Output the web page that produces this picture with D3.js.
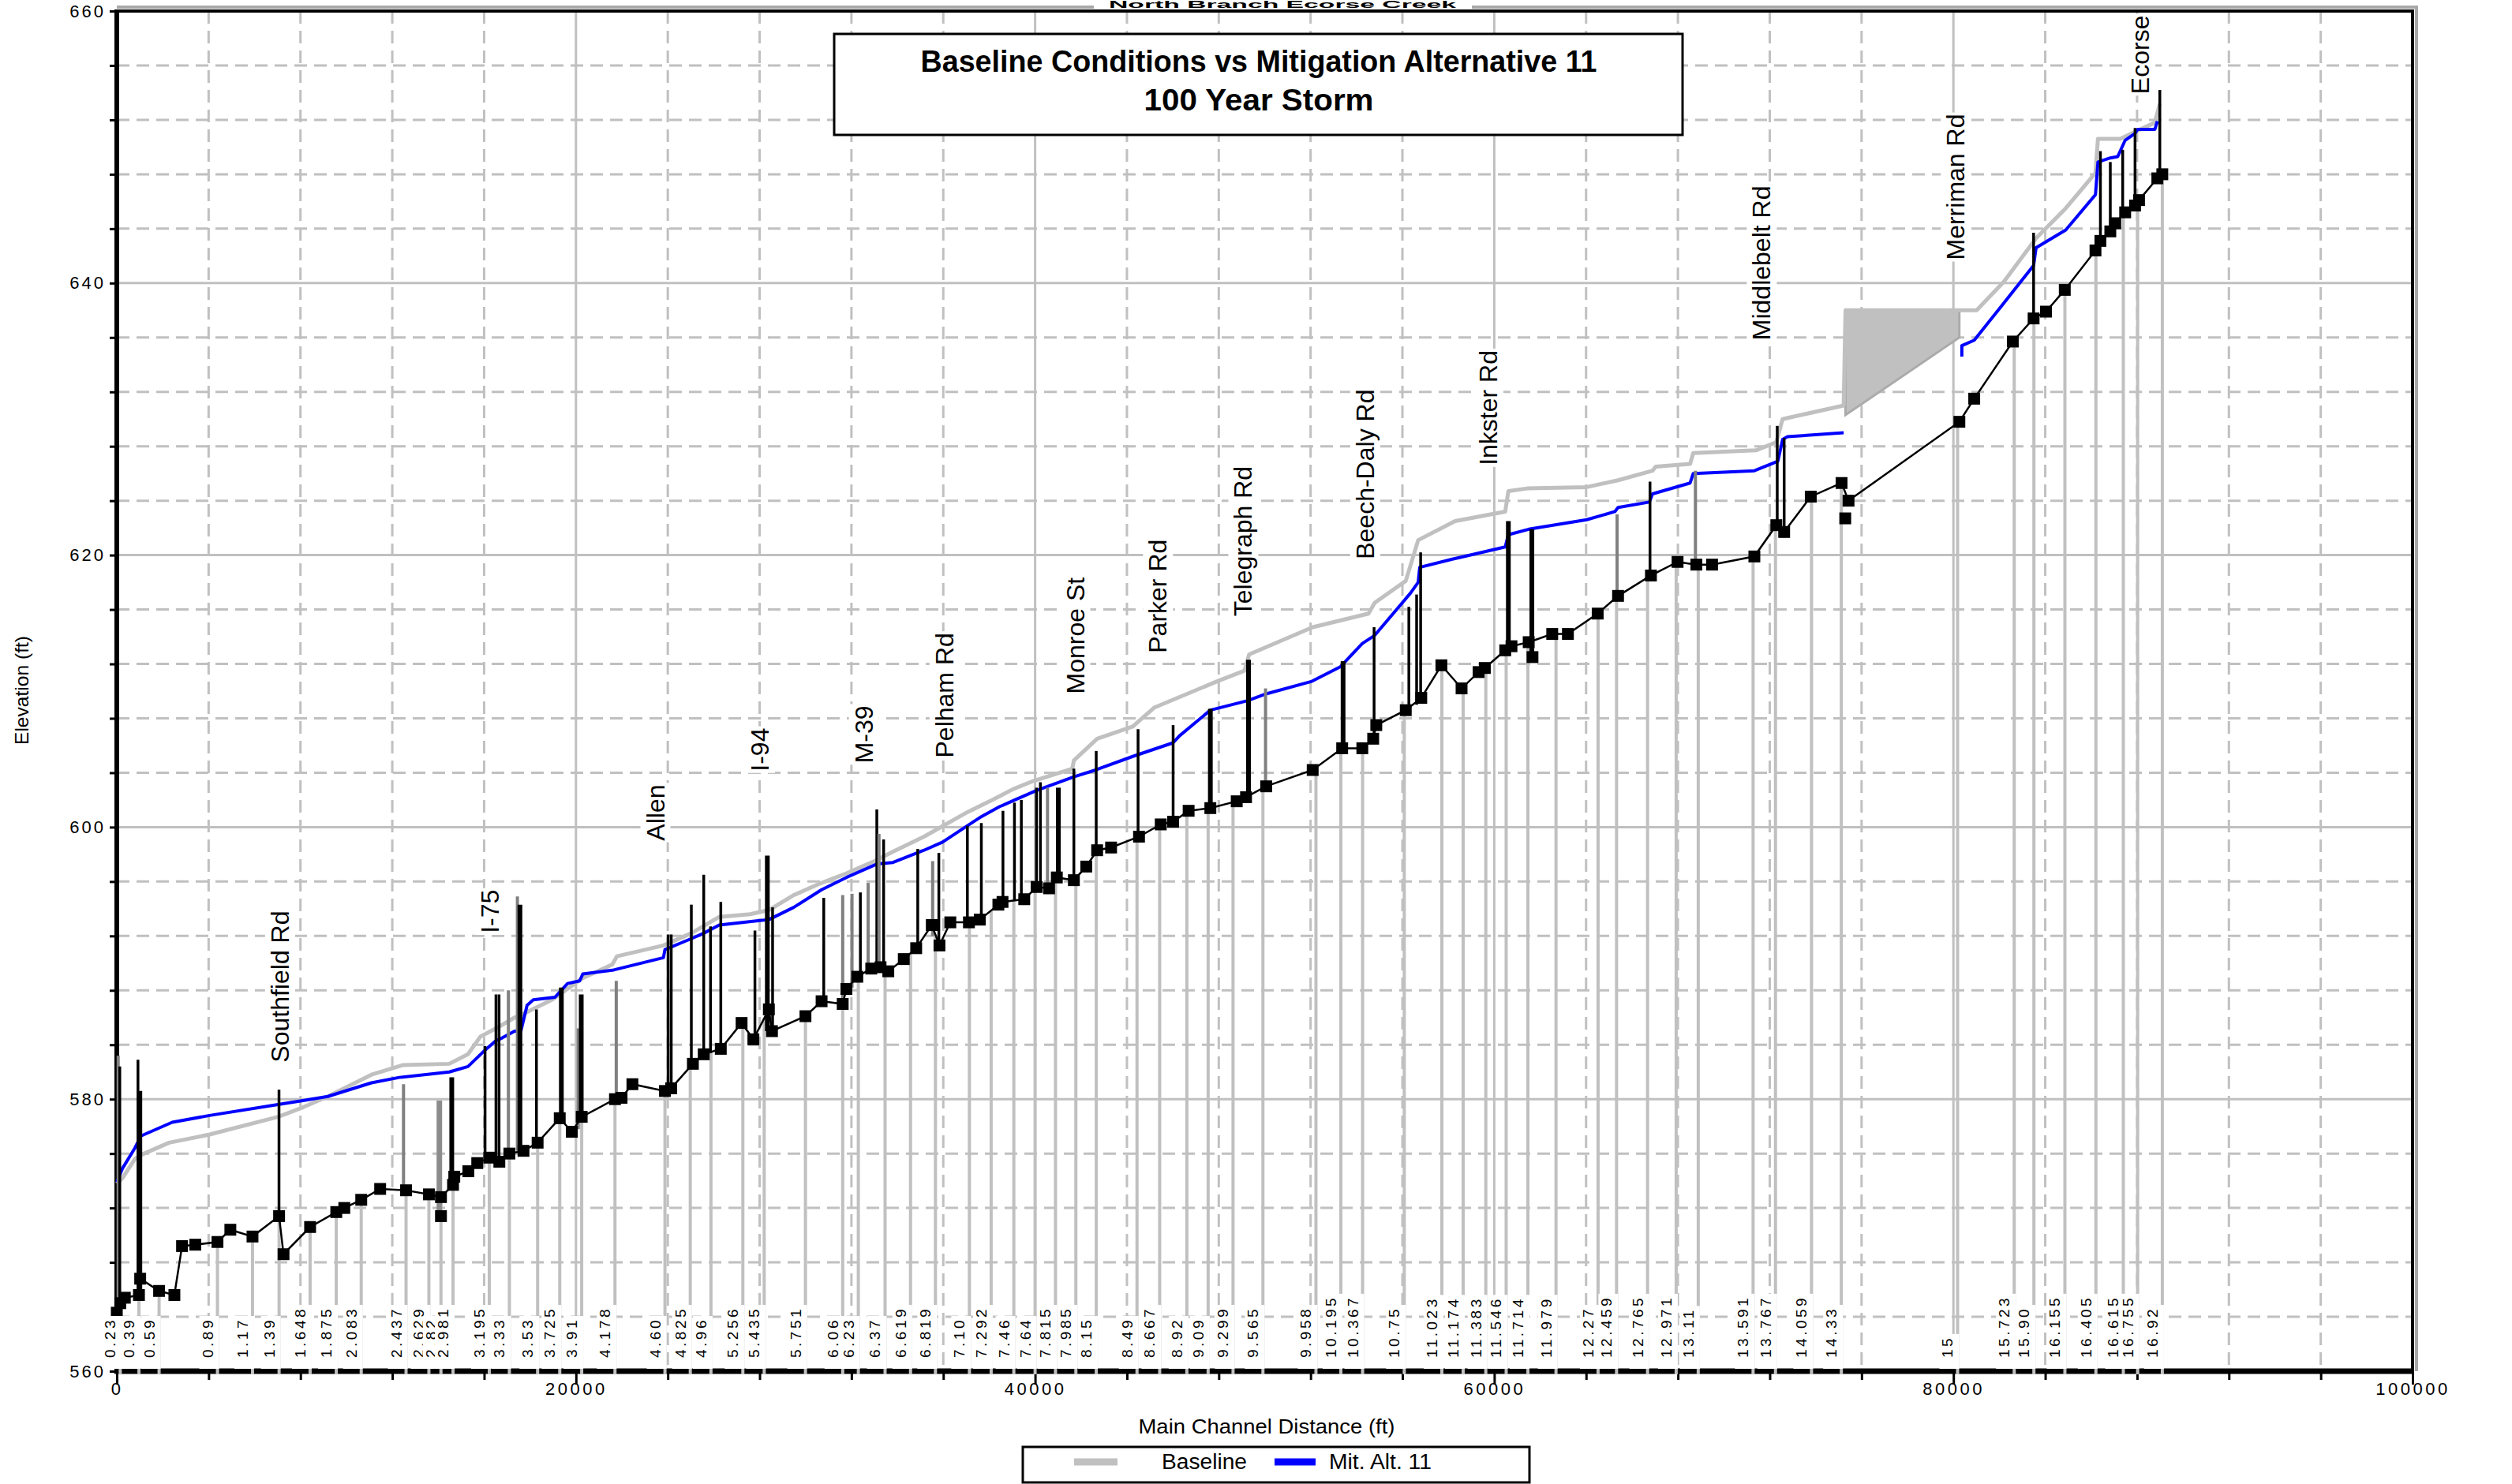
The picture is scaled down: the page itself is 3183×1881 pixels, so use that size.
<!DOCTYPE html>
<html><head><meta charset="utf-8">
<script src="https://cdn.jsdelivr.net/npm/d3@7/dist/d3.min.js"></script>
<style>html,body{margin:0;padding:0;background:#fff}svg text{font-family:"Liberation Sans",Arial,sans-serif;fill:#000}</style>
</head><body><svg id="chart" width="3183" height="1881"></svg>
<script>
// ---------------- DATA ----------------
const xTicks = [0, 20000, 40000, 60000, 80000, 100000];
const yTicks = [560, 580, 600, 620, 640, 660];

// channel bed (distance ft, elevation ft)
const bedProfile = [[0,564.3],[150,565.0],[350,565.4],[965,565.6],[1018,566.8],[1842,565.9],[2508,565.6],[2842,569.2],[3420,569.3],[4385,569.5],[4946,570.4],[5911,569.9],[7069,571.4],[7262,568.6],[8420,570.6],[9560,571.7],[9910,572.0],[10647,572.6],[11471,573.4],[12600,573.3],[13594,573.0],[14120,572.8],[14646,573.7],[14700,574.3],[15313,574.7],[15700,575.3],[16225,575.7],[16663,575.4],[17100,576.0],[17715,576.2],[18330,576.8],[19294,578.6],[19820,577.6],[20250,578.7],[21700,580.0],[21986,580.1],[22459,581.1],[23877,580.6],[24148,580.8],[25093,582.6],[25566,583.3],[26309,583.7],[27215,585.6],[27728,584.4],[28403,586.6],[28538,585.0],[29997,586.1],[30700,587.2],[31619,587.0],[31781,588.1],[32254,589.0],[32862,589.6],[33267,589.7],[33605,589.4],[34280,590.3],[34820,591.1],[35500,592.8],[35834,591.3],[36307,593.0],[37118,593.0],[37590,593.2],[38400,594.3],[38581,594.5],[39527,594.7],[40068,595.6],[40608,595.5],[40946,596.3],[41689,596.1],[42229,597.1],[42702,598.3],[43310,598.5],[44526,599.3],[45472,600.2],[46012,600.4],[46687,601.2],[47633,601.4],[48782,601.9],[49187,602.2],[50065,603.0],[52091,604.2],[53375,605.8],[54253,605.8],[54726,606.5],[54861,607.5],[56145,608.6],[56820,609.5],[57698,611.9],[58576,610.2],[59318,611.4],[59590,611.7],[60478,613.0],[60750,613.3],[61500,613.6],[62525,614.2],[63208,614.2],[64505,615.7],[65392,617.0],[66825,618.5],[67985,619.5],[68804,619.3],[69487,619.3],[71330,619.9],[72286,622.2],[72627,621.7],[73787,624.3],[75128,625.3],[75432,624.0],[80259,629.8],[80906,631.5],[82587,635.7],[83493,637.4],[84032,637.9],[84851,639.5],[86188,642.4],[86403,643.1],[86834,643.8],[87050,644.4],[87481,645.2],[87912,645.7],[88085,646.1],[88883,647.7],[89099,648.0]];
const bedExtraPoints = [[14120,571.4],[61665,612.5],[75288,622.7]];

// water surface: Baseline
const baselineWS = [[0,573.8],[250,574.2],[786,575.6],[1058,575.9],[2278,576.8],[4041,577.4],[7024,578.7],[8109,579.4],[9194,580.2],[11093,581.8],[12448,582.5],[14482,582.6],[15296,583.3],[15838,584.6],[16516,585.2],[17329,586.0],[17871,586.4],[18946,587.3],[20297,588.9],[21581,589.9],[21783,590.5],[23810,591.3],[25026,592.2],[26242,593.4],[27593,593.6],[28403,593.9],[29484,595.0],[30700,595.9],[31781,596.6],[32997,597.5],[33808,598.2],[35159,599.3],[37050,601.1],[38130,602.0],[39054,602.8],[39932,603.4],[41621,604.3],[41689,604.9],[42702,606.5],[44256,607.4],[44526,607.8],[45202,608.8],[47904,610.7],[49120,611.5],[49322,612.7],[52091,614.7],[54523,615.7],[54794,616.5],[56145,618.1],[56686,621.1],[58294,622.5],[60478,623.2],[60614,624.7],[61433,624.9],[64027,625.0],[65392,625.5],[66893,626.2],[67030,626.5],[68531,626.7],[68668,627.5],[71398,627.7],[72286,628.3],[72559,630.0],[75220,631.0],[75300,638.0],[81013,638.0],[82200,640.1],[83600,643.3],[84894,645.5],[86188,648.1],[86296,650.6],[87266,650.6],[88775,651.8],[88991,653.2]];

// water surface: Mit. Alt. 11 (null = gap)
const mitAlt11WS = [[0,573.9],[244,574.9],[786,576.4],[1058,577.3],[2414,578.3],[4041,578.8],[7024,579.6],[8109,579.9],[9194,580.2],[11093,581.2],[12313,581.6],[14482,582.0],[15296,582.4],[15974,583.5],[16516,584.3],[16787,584.5],[17329,585.0],[17600,585.0],[17871,586.9],[18142,587.3],[19091,587.5],[19634,588.5],[20162,588.7],[20297,589.2],[21648,589.5],[23810,590.4],[23877,591.0],[25026,591.8],[25566,592.2],[26242,592.8],[27863,593.1],[28403,593.2],[29484,594.1],[30700,595.4],[31781,596.3],[33132,597.3],[33808,597.4],[35159,598.3],[35969,598.9],[37050,600.1],[37590,600.7],[38446,601.5],[39257,602.1],[40068,602.7],[41689,603.7],[42635,604.2],[44256,605.2],[46012,606.2],[46282,606.7],[47633,608.6],[49255,609.3],[50065,609.8],[52024,610.7],[53307,611.8],[54253,613.5],[54794,614.1],[56348,617.2],[56686,618.0],[56753,619.1],[58172,619.7],[58703,619.9],[60478,620.6],[60614,621.5],[61501,621.9],[64027,622.6],[65256,623.2],[65392,623.5],[66757,623.9],[66893,624.5],[68531,625.3],[68668,626.0],[71330,626.2],[72354,626.9],[72559,628.5],[72763,628.7],[75220,629.0],[77800,null],[80367,634.6],[80367,635.4],[80906,635.8],[82092,638.3],[83493,641.3],[83601,642.6],[84894,643.9],[86188,646.5],[86296,648.9],[86834,649.2],[87158,649.3],[87481,650.5],[87912,651.0],[88020,651.3],[88775,651.3],[88883,651.9]];

// shaded storage area
const storageArea = [[75300,638.0],[80259,638.0],[80259,636.0],[75300,630.3]];

// structures: [distance, low elev, high elev, kind]
const structures = [[60,564.3,583.2,'g'],[130,564.3,582.4,'k'],[922,565.6,582.9,'k'],[1003,565.8,580.6,'K'],[7065,571.4,580.7,'k'],[12489,573.4,581.1,'g'],[14050,571.4,579.9,'G'],[14590,573.7,581.6,'K'],[16040,575.6,583.9,'k'],[16516,575.4,587.7,'k'],[16650,575.4,587.7,'k'],[17058,576.0,588.0,'g'],[17450,576.2,594.9,'g'],[17560,576.2,594.3,'K'],[18279,576.8,586.6,'k'],[19364,578.2,588.2,'K'],[20100,577.8,585.2,'g'],[20230,578.6,587.7,'K'],[21756,580.0,588.7,'g'],[24013,580.6,592.1,'k'],[24150,580.8,592.1,'k'],[25026,582.6,594.3,'k'],[25566,583.3,596.5,'k'],[25863,583.4,592.7,'k'],[26309,583.7,594.5,'k'],[27796,584.4,592.4,'k'],[28336,585.0,597.9,'K'],[28565,585.0,594.1,'k'],[30794,587.2,594.8,'k'],[31619,587.0,595.0,'g'],[32024,588.2,595.1,'g'],[32389,589.0,595.2,'k'],[32727,589.5,595.9,'g'],[33105,589.6,601.3,'k'],[33200,589.7,599.5,'g'],[33402,589.7,599.1,'k'],[34888,591.1,598.4,'k'],[35537,592.0,597.5,'g'],[35807,591.3,598.1,'k'],[37050,593.0,600.1,'k'],[37658,593.2,600.3,'k'],[38600,594.4,601.2,'k'],[39100,594.6,601.8,'k'],[39400,594.6,602.0,'k'],[40060,595.6,602.9,'k'],[40230,595.6,603.3,'k'],[40540,595.5,602.9,'g'],[41013,596.3,602.9,'K'],[41689,596.1,604.3,'k'],[42662,598.3,605.6,'k'],[44485,599.3,607.2,'k'],[46012,600.4,607.5,'k'],[47633,601.4,608.7,'K'],[49295,602.2,612.3,'K'],[50038,603.0,610.2,'g'],[53415,605.8,612.2,'K'],[54766,606.5,614.7,'k'],[56280,608.6,616.2,'k'],[56618,609.0,617.1,'k'],[56793,609.5,620.2,'k'],[60614,613.0,622.5,'K'],[61638,612.5,621.9,'K'],[65351,617.0,623.0,'g'],[66784,618.5,625.4,'k'],[68763,619.3,626.2,'g'],[72326,622.2,629.5,'k'],[72627,621.7,628.6,'k'],[83493,637.4,643.7,'k'],[86403,643.1,649.7,'k'],[86834,643.8,648.9,'k'],[87374,645.0,649.8,'k'],[87912,645.7,651.4,'k'],[88991,648.0,654.2,'k']];

// river stations: [label, distance]
const stations = [["0.23",150],["0.39",965],["0.59",1842],["0.89",4385],["1.17",5911],["1.39",7069],["1.648",8420],["1.875",9560],["2.083",10647],["2.437",12600],["2.629",13594],["2.82",14120],["2.981",14646],["3.195",16225],["3.33",17100],["3.53",18330],["3.725",19294],["3.91",20250],["4.178",21700],["4.60",23877],["4.825",24980],["4.96",25880],["5.256",27270],["5.435",28200],["5.751",29997],["6.06",31619],["6.23",32300],["6.37",33465],["6.619",34574],["6.819",35659],["7.10",37139],["7.292",38086],["7.46",39073],["7.64",40000],["7.815",40888],["7.985",41776],["8.15",42664],["8.49",44439],["8.667",45426],["8.92",46610],["9.09",47537],["9.299",48622],["9.565",49924],["9.958",52233],["10.195",53318],["10.367",54265],["10.75",56080],["11.023",57718],["11.174",58645],["11.383",59632],["11.546",60519],["11.714",61466],["11.979",62690],["12.27",64522],["12.459",65327],["12.765",66678],["12.971",67924],["13.11",68885],["13.591",71274],["13.767",72250],["14.059",73819],["14.33",75118],["15",80182],["15.723",82649],["15.90",83506],["16.155",84856],["16.405",86207],["16.615",87401],["16.755",88025],["16.92",89100]];

// road crossings: [name, distance, label bottom elevation]
const roads = [["Southfield Rd",7092,582.7],["I-75",16245,592.2],["Allen",23445,599.0],["I-94",27998,604.1],["M-39",32524,604.7],["Pelham Rd",36036,605.1],["Monroe St",41733,609.8],["Parker Rd",45336,612.8],["Telegraph Rd",49052,615.5],["Beech-Daly Rd",54361,619.7],["Inkster Rd",59727,626.6],["Middlebelt Rd",71635,635.8],["Merriman Rd",80086,641.7],["Ecorse",88128,653.9]];

const seriesNames = ["Baseline", "Mit. Alt. 11"];
const seriesColors = ["#c0c0c0", "#0000ff"];

// ---------------- DRAW ----------------
const svg = d3.select('#chart');
const x = d3.scaleLinear().domain([0,100000]).range([148,3057]);
const y = d3.scaleLinear().domain([560,660]).range([1738,14]);
const GRID = '#c0c0c0';
const FONT = '"Liberation Sans", Arial, sans-serif';

svg.append('rect').attr('width',3183).attr('height',1881).attr('fill','#fff');

function bedAt(v){
  for(let i=1;i<bedProfile.length;i++){
    if(bedProfile[i][0]>=v){
      const a=bedProfile[i-1], b=bedProfile[i];
      const t=(v-a[0])/((b[0]-a[0])||1);
      return a[1]+t*(b[1]-a[1]);
    }
  }
  return bedProfile[bedProfile.length-1][1];
}

// grid
const grid = svg.append('g');
d3.range(4000,100000,4000).forEach(v=>grid.append('line')
  .attr('x1',x(v)).attr('x2',x(v)).attr('y1',y(660)).attr('y2',y(560))
  .attr('stroke',GRID).attr('stroke-width',3).attr('stroke-dasharray',v%20000===0?null:'16,9'));
d3.range(564,660,4).forEach(v=>grid.append('line')
  .attr('y1',y(v)).attr('y2',y(v)).attr('x1',x(0)).attr('x2',x(100000))
  .attr('stroke',GRID).attr('stroke-width',3).attr('stroke-dasharray',v%20===0?null:'16,9'));

// frame (shadow + black)
const fr = svg.append('g');
fr.append('line').attr('x1',148).attr('x2',3064).attr('y1',9).attr('y2',9).attr('stroke','#a8a8a8').attr('stroke-width',4);
fr.append('line').attr('x1',3062).attr('x2',3062).attr('y1',9).attr('y2',1738).attr('stroke','#a8a8a8').attr('stroke-width',4);
fr.append('line').attr('x1',146).attr('x2',3059).attr('y1',y(660)).attr('y2',y(660)).attr('stroke','#000').attr('stroke-width',4);
fr.append('line').attr('x1',x(100000)).attr('x2',x(100000)).attr('y1',y(660)).attr('y2',1741).attr('stroke','#000').attr('stroke-width',4);

// axes
const ya = svg.append('g').attr('transform',`translate(${x(0)},0)`)
  .call(d3.axisLeft(y).tickValues(d3.range(560,661,4)).tickSize(9).tickPadding(5).tickFormat(d=>yTicks.includes(d)?d:''));
ya.select('.domain').remove();
ya.attr('font-family',FONT).attr('font-size',22);
ya.selectAll('line').attr('stroke','#000').attr('stroke-width',3);
ya.selectAll('text').attr('letter-spacing',3);

const xa = svg.append('g').attr('transform',`translate(0,1741)`)
  .call(d3.axisBottom(x).tickValues(d3.range(0,100001,4000)).tickSize(8).tickPadding(3).tickFormat(d=>xTicks.includes(d)?d:''));
xa.select('.domain').remove();
xa.attr('font-family',FONT).attr('font-size',22);
xa.selectAll('line').attr('stroke','#000').attr('stroke-width',3);
xa.selectAll('.tick').filter(d=>xTicks.includes(d)).select('line').attr('y2',14);
xa.selectAll('text').attr('letter-spacing',3.5);

svg.append('line').attr('x1',x(0)).attr('x2',x(0)).attr('y1',y(660)-2).attr('y2',1741).attr('stroke','#000').attr('stroke-width',6);
svg.append('line').attr('x1',x(0)-3).attr('x2',x(100000)+2).attr('y1',1738).attr('y2',1738).attr('stroke','#000').attr('stroke-width',7);

// station lines
svg.append('g').selectAll('line').data(stations).join('line')
  .attr('x1',d=>x(d[1])).attr('x2',d=>x(d[1]))
  .attr('y1',1742).attr('y2',d=>y(bedAt(d[1])))
  .attr('stroke',GRID).attr('stroke-width',4);

// storage area
svg.append('path')
  .attr('d',d3.line().x(d=>x(d[0])).y(d=>y(d[1]))(storageArea)+'Z')
  .attr('fill','#c0c0c0').attr('stroke','#ababab').attr('stroke-width',3);

// water surfaces
const wsLine = d3.line().defined(d=>d[1]!=null).x(d=>x(d[0])).y(d=>y(d[1]));
svg.append('path').attr('d',wsLine(baselineWS)).attr('fill','none').attr('stroke',seriesColors[0]).attr('stroke-width',5).attr('stroke-linejoin','round');
svg.append('path').attr('d',wsLine(mitAlt11WS)).attr('fill','none').attr('stroke',seriesColors[1]).attr('stroke-width',4).attr('stroke-linejoin','round');

// structures
const sStyle = {k:['#000',3.5],K:['#000',6],g:['#808080',4],G:['#8c8c8c',7]};
svg.append('g').selectAll('line').data(structures).join('line')
  .attr('x1',d=>x(d[0])).attr('x2',d=>x(d[0]))
  .attr('y1',d=>y(d[1])).attr('y2',d=>y(d[2]))
  .attr('stroke',d=>sStyle[d[3]][0]).attr('stroke-width',d=>sStyle[d[3]][1]);

// bed
svg.append('path').attr('d',d3.line().x(d=>x(d[0])).y(d=>y(d[1]))(bedProfile))
  .attr('fill','none').attr('stroke','#000').attr('stroke-width',2.5);
const SQ = 15;
svg.append('g').selectAll('rect').data(bedProfile.concat(bedExtraPoints)).join('rect')
  .attr('x',d=>x(d[0])-SQ/2).attr('y',d=>y(d[1])-SQ/2).attr('width',SQ).attr('height',SQ).attr('fill','#000');

// station labels
const sl = svg.append('g');
stations.forEach(s=>{
  const g = sl.append('g').attr('transform',`translate(${x(s[1])-6},1721) rotate(-90)`);
  const r = g.append('rect').attr('fill','#fff');
  const t = g.append('text').attr('font-size',19).attr('letter-spacing',3.5).attr('text-anchor','start').text(s[0]);
  const L = t.node().getComputedTextLength();
  r.attr('x',-14).attr('y',-17).attr('width',L+16).attr('height',25);
});

// road labels
const rl = svg.append('g');
roads.forEach(rd=>{
  const g = rl.append('g').attr('transform',`translate(${x(rd[1])},${y(rd[2])}) rotate(-90)`);
  const r = g.append('rect').attr('fill','#fff');
  const t = g.append('text').attr('font-size',32).attr('dy','0.36em').attr('text-anchor','start').text(rd[0]);
  const b = t.node().getBBox();
  r.attr('x',b.x-2).attr('y',b.y-1).attr('width',b.width+4).attr('height',b.height+2);
});

// small top title in the gap of the frame shadow
svg.append('rect').attr('x',1386).attr('y',0).attr('width',479).attr('height',11).attr('fill','#fff');
svg.append('text').attr('x',1625).attr('y',10).attr('text-anchor','middle').attr('font-size',12).attr('font-weight','bold')
  .attr('textLength',440).attr('lengthAdjust','spacingAndGlyphs').text('North Branch Ecorse Creek');
svg.append('line').attr('x1',146).attr('x2',3059).attr('y1',y(660)).attr('y2',y(660)).attr('stroke','#000').attr('stroke-width',4);

// title box
svg.append('rect').attr('x',1057).attr('y',43).attr('width',1075).attr('height',128).attr('fill','#fff').attr('stroke','#000').attr('stroke-width',3);
svg.append('text').attr('x',1595).attr('y',91).attr('text-anchor','middle').attr('font-size',38).attr('font-weight','bold')
  .attr('textLength',857).attr('lengthAdjust','spacingAndGlyphs').text('Baseline Conditions vs Mitigation Alternative 11');
svg.append('text').attr('x',1595).attr('y',140).attr('text-anchor','middle').attr('font-size',38).attr('font-weight','bold')
  .attr('textLength',291).attr('lengthAdjust','spacingAndGlyphs').text('100 Year Storm');

// axis titles
svg.append('text').attr('x',1605).attr('y',1817).attr('text-anchor','middle').attr('font-size',25)
  .attr('textLength',325).attr('lengthAdjust','spacingAndGlyphs').text('Main Channel Distance (ft)');
svg.append('text').attr('transform','translate(36,875) rotate(-90)').attr('text-anchor','middle').attr('font-size',24)
  .attr('textLength',138).attr('lengthAdjust','spacingAndGlyphs').text('Elevation (ft)');

// legend
const lg = svg.append('g');
lg.append('rect').attr('x',1296).attr('y',1834).attr('width',642).attr('height',45).attr('fill','#fff').attr('stroke','#000').attr('stroke-width',3);
const legX = [[1361,1416,1472,108],[1615,1667,1684,130]];
seriesNames.forEach((n,i)=>{
  lg.append('line').attr('x1',legX[i][0]).attr('x2',legX[i][1]).attr('y1',1853).attr('y2',1853).attr('stroke',seriesColors[i]).attr('stroke-width',9);
  lg.append('text').attr('x',legX[i][2]).attr('y',1862).attr('font-size',27)
    .attr('textLength',legX[i][3]).attr('lengthAdjust','spacingAndGlyphs').text(n);
});
</script></body></html>
